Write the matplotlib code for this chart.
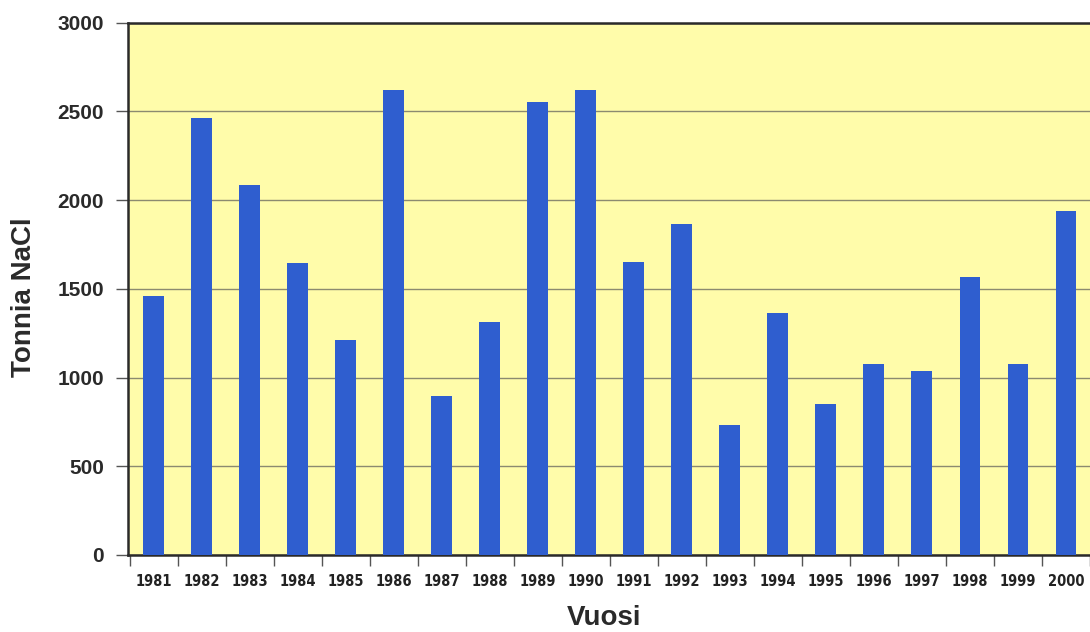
import matplotlib
matplotlib.use("Agg")
import matplotlib.pyplot as plt
import numpy as np

# Tiesuolan käyttö vuosittain
vuodet = ["1981", "1982", "1983", "1984", "1985", "1986", "1987", "1988", "1989", "1990",
          "1991", "1992", "1993", "1994", "1995", "1996", "1997", "1998", "1999", "2000"]
tonnit = [1460, 2460, 2085, 1645, 1210, 2620, 895, 1315, 2553, 2621,
          1650, 1865, 732, 1365, 852, 1078, 1035, 1565, 1078, 1938]

W, H = 1090, 632
fig = plt.figure(figsize=(W / 100, H / 100), dpi=100)
fig.patch.set_facecolor("white")

left, bottom, top = 127.5, 555, 22.5
ax = fig.add_axes([left / W, 1 - bottom / H, 1 - left / W, (bottom - top) / H])
ax.set_facecolor("#FFFCAA")

x = np.arange(len(vuodet))
ax.bar(x, tonnit, width=0.435, color="#2F5ECF", zorder=3)

ax.set_ylim(0, 3000)
ax.set_xlim(-0.545, 19.36)
ax.set_yticks(np.arange(0, 3001, 500))
ax.grid(axis="y", color="#8C8A70", linewidth=1.0, zorder=1)

for s in ("left", "bottom", "top"):
    ax.spines[s].set_color("#2A2A2A")
    ax.spines[s].set_linewidth(1.8)
ax.spines["right"].set_visible(False)

ax.tick_params(axis="y", direction="out", length=9, width=1.0, color="#555555",
               pad=8, labelsize=15, labelcolor="#2A2A2A")
for lab in ax.get_yticklabels():
    lab.set_fontfamily("Liberation Sans")
    lab.set_fontweight("bold")

ax.set_xticks(x)
ax.set_xticklabels(vuodet, fontfamily="DejaVu Sans", fontstretch="condensed",
                   fontweight="bold", fontsize=10.5, color="#222222")
ax.tick_params(axis="x", which="major", length=0, pad=14)
ax.set_xticks(np.arange(-0.5, len(vuodet), 1.0), minor=True)
ax.tick_params(axis="x", which="minor", direction="out", length=8, width=1.0, color="#555555")

fig.text(24 / W, 1 - 297 / H, "Tonnia NaCl", rotation=90, ha="center", va="center",
         fontsize=20, fontweight="bold", fontfamily="Liberation Sans", color="#2A2A2A")
fig.text(604 / W, 1 - 618 / H, "Vuosi", ha="center", va="center",
         fontsize=20, fontweight="bold", fontfamily="Liberation Sans", color="#2A2A2A")

fig.savefig("out.png", dpi=100)
